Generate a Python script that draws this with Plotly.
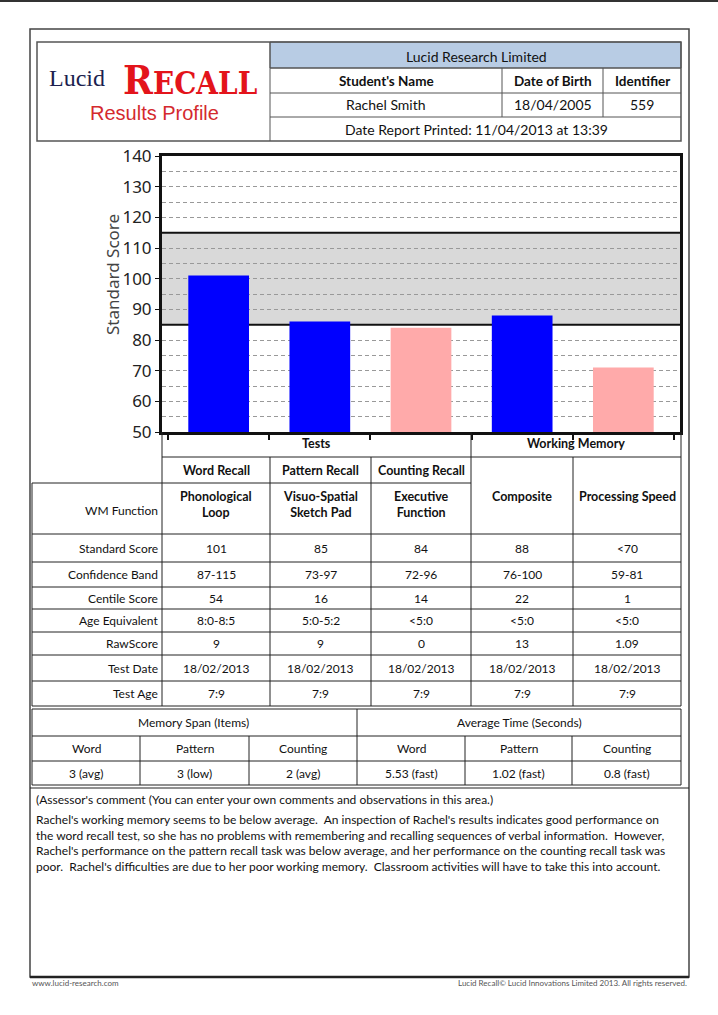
import plotly.graph_objects as go

# ---------------- data ----------------
company = "Lucid Research Limited"
student_headers = ["Student's Name", "Date of Birth", "Identifier"]
student_values = ["Rachel Smith", "18/04/2005", "559"]
printed_text = "Date Report Printed: 11/04/2013 at 13:39"

groups = ["Tests", "Working Memory"]
tests = ["Word Recall", "Pattern Recall", "Counting Recall", "Composite", "Processing Speed"]
wm_functions = ["Phonological<br>Loop", "Visuo-Spatial<br>Sketch Pad", "Executive<br>Function"]
bar_scores = [101, 86, 84, 88, 71]
average_band = [85, 115]
y_range = [50, 140]

row_labels = ["Standard Score", "Confidence Band", "Centile Score", "Age Equivalent",
              "RawScore", "Test Date", "Test Age"]
standard_score = ["101", "85", "84", "88", "<70"]
confidence_band = ["87-115", "73-97", "72-96", "76-100", "59-81"]
centile_score = ["54", "16", "14", "22", "1"]
age_equivalent = ["8:0-8:5", "5:0-5:2", "<5:0", "<5:0", "<5:0"]
raw_score = ["9", "9", "0", "13", "1.09"]
test_date = ["18/02/2013"] * 5
test_age = ["7:9", "7:9", "7:9", "7:9", "7:9"]
table_rows = [standard_score, confidence_band, centile_score, age_equivalent,
              raw_score, test_date, test_age]

span_groups = ["Memory Span (Items)", "Average Time (Seconds)"]
span_cats = ["Word", "Pattern", "Counting", "Word", "Pattern", "Counting"]
span_values = ["3 (avg)", "3 (low)", "2 (avg)", "5.53 (fast)", "1.02 (fast)", "0.8 (fast)"]

comment_title = "(Assessor's comment (You can enter your own comments and observations in this area.)"
comment_lines = [
    "Rachel's working memory seems to be below average.&nbsp; An inspection of Rachel's results indicates good performance on",
    "the word recall test, so she has no problems with remembering and recalling sequences of verbal information.&nbsp; However,",
    "Rachel's performance on the pattern recall task was below average, and her performance on the counting recall task was",
    "poor.&nbsp; Rachel's difficulties are due to her poor working memory.&nbsp; Classroom activities will have to take this into account.",
]
footer_left = "www.lucid-research.com"
footer_right = "Lucid Recall\u00a9 Lucid Innovations Limited 2013. All rights reserved."

# ---------------- helpers ----------------
W, H = 718, 1015
FONT = "Lato"
shapes, annots = [], []


def X(p):
    return p / W


def Y(p):
    return 1 - p / H


def hline(y, x0, x1, w=1, c="#222"):
    shapes.append(dict(type="line", xref="paper", yref="paper", x0=X(x0), x1=X(x1),
                       y0=Y(y), y1=Y(y), line=dict(color=c, width=w)))


def vline(x, y0, y1, w=1, c="#222"):
    shapes.append(dict(type="line", xref="paper", yref="paper", x0=X(x), x1=X(x),
                       y0=Y(y0), y1=Y(y1), line=dict(color=c, width=w)))


def rect(x0, y0, x1, y1, w=1, c="#222", fill=None):
    d = dict(type="rect", xref="paper", yref="paper", x0=X(x0), x1=X(x1),
             y0=Y(y1), y1=Y(y0), line=dict(color=c, width=w))
    if fill:
        d["fillcolor"] = fill
        d["layer"] = "below"
    shapes.append(d)


def text(x, y, s, size=12, bold=False, anchor="center", color="#111", family=FONT, align=None):
    if bold:
        s = "<b>" + s + "</b>"
    annots.append(dict(xref="paper", yref="paper", x=X(x), y=Y(y), text=s, showarrow=False,
                       xanchor=anchor, yanchor="middle", align=align or anchor,
                       font=dict(size=size, color=color, family=family)))


# ---------------- page frame ----------------
hline(1, 0, 718, w=2, c="#333")
rect(30, 29, 689, 977, w=1.5, c="#444")
hline(977, 30, 689, w=2.5, c="#222")

# ---------------- header ----------------
rect(37, 42, 681, 141, w=1.5, c="#555")
rect(270, 42, 681, 68, w=1, c="#555", fill="#b8cce4")
vline(270, 42, 141, c="#555")
hline(68, 270, 681, c="#555")
hline(93, 270, 681, c="#555")
hline(117, 270, 681, c="#555")
vline(502, 68, 117, c="#555")
vline(603, 68, 117, c="#555")
text(476, 56, company, size=14)
col_cx = [386, 553, 642]
for cx, h, v in zip(col_cx, student_headers, student_values):
    text(cx, 81, h, size=13.5, bold=True)
    text(cx, 105, v, size=14)
text(476, 129, printed_text, size=14)

# logo
text(77, 78, "Lucid", size=24, color="#1c1f50", family="Liberation Serif")
text(190, 79, "<b>R<span style='font-size:31px'>ECALL</span></b>", size=40, color="#e3141b",
     family="DejaVu Serif Condensed")
text(154, 113, "Results Profile", size=20, color="#d42a2e", family="Liberation Sans")

# ---------------- chart ----------------
band_low, band_high = average_band
colors = ["#ffaaaa" if s < band_low else "#0000ff" for s in bar_scores]
xs = list(range(len(tests)))
fig = go.Figure(go.Bar(x=xs, y=bar_scores, width=0.6, marker=dict(color=colors, line=dict(width=0)),
                       hovertext=tests, showlegend=False))

shapes.append(dict(type="rect", xref="x domain", yref="y", x0=0, x1=1, y0=band_low, y1=band_high,
                   fillcolor="#d9d9d9", line=dict(width=0), layer="below"))
for b in average_band:
    shapes.append(dict(type="line", xref="x domain", yref="y", x0=0, x1=1, y0=b, y1=b,
                       line=dict(color="#111", width=2), layer="below"))

text(112, 275, "Standard Score", size=17, color="#444", family="Noto Sans")
annots[-1]["textangle"] = -90

# minor gridlines every 5, except on the band edges (drawn solid)
minor_vals = [v for v in range(y_range[0] + 5, y_range[1], 10) if v not in average_band]

# ---------------- main table ----------------
cols = [162, 270, 371, 471, 573, 681]
hline(457, 162, 681)
hline(483, 32, 471)
hline(534, 32, 681)
row_lines = [534, 562, 587, 609, 632, 655, 681, 706]
for yl in row_lines[1:]:
    hline(yl, 32, 681)
vline(32, 483, 706)
vline(162, 432, 706)
vline(471, 432, 706)
vline(681, 432, 706)
for cx in (270, 371):
    vline(cx, 457, 706)
vline(573, 457, 706)

text(316, 444, groups[0], size=12.5, bold=True)
text(576, 444, groups[1], size=12.5, bold=True)
for i in range(3):
    cx = (cols[i] + cols[i + 1]) / 2
    text(cx, 470, tests[i], size=12.5, bold=True)
    text(cx, 505, wm_functions[i], size=12.5, bold=True)
for i in range(3, 5):
    cx = (cols[i] + cols[i + 1]) / 2
    text(cx, 496, tests[i], size=12.5, bold=True)
text(160, 510, "WM Function", size=12, anchor="right")

for r, (lab, vals) in enumerate(zip(row_labels, table_rows)):
    cy = (row_lines[r] + row_lines[r + 1]) / 2
    text(160, cy, lab, size=12, anchor="right")
    for i, v in enumerate(vals):
        text((cols[i] + cols[i + 1]) / 2, cy, v, size=12)

# ---------------- memory span table ----------------
rect(32, 709, 681, 785)
hline(736, 32, 681)
hline(761, 32, 681)
vline(357, 709, 785)
scols = [32, 140, 249, 357, 465, 572, 681]
for cx in scols[1:-1]:
    if cx != 357:
        vline(cx, 736, 785)
text(194, 722, span_groups[0], size=12)
text(519, 722, span_groups[1], size=12)
for i, (c, v) in enumerate(zip(span_cats, span_values)):
    cx = (scols[i] + scols[i + 1]) / 2
    text(cx, 748, c, size=12)
    text(cx, 773, v, size=12)

# ---------------- comment ----------------
hline(788, 30, 689)
text(34, 799, comment_title, size=12, anchor="left")
text(34, 843, "<br>".join(comment_lines), size=12, anchor="left")

# ---------------- footer ----------------
text(30, 983, footer_left, size=8, anchor="left", color="#555")
text(689, 983, footer_right, size=8, anchor="right", color="#555")

fig.update_layout(
    width=W, height=H, margin=dict(l=0, r=0, t=0, b=0, pad=0, autoexpand=False),
    paper_bgcolor="white", plot_bgcolor="white",
    shapes=shapes, annotations=annots, bargap=0.4,
    xaxis=dict(domain=[X(162), X(680)], range=[-0.56, len(tests) - 0.44], automargin=False,
               tickvals=[i - 0.5 for i in range(len(tests) + 1)], ticktext=[""] * (len(tests) + 1),
               ticks="outside", ticklen=5, tickwidth=2, tickcolor="#111",
               showgrid=False, zeroline=False, showline=True, linewidth=3, linecolor="#111",
               mirror=True, fixedrange=True),
    yaxis=dict(domain=[Y(432), Y(156)], range=y_range, dtick=10, tick0=50, automargin=False,
               ticks="outside", ticklen=4, tickcolor="#111",
               tickfont=dict(size=17, color="#222", family="Noto Sans"),
               showgrid=True, gridcolor="#999999", griddash="4px,3px", gridwidth=1,
               minor=dict(tickmode="array", tickvals=minor_vals, showgrid=True,
                          gridcolor="#999999", griddash="4px,3px", ticks=""),
               zeroline=False, showline=True, linewidth=3, linecolor="#111", mirror=True,
               fixedrange=True),
)

fig.write_html("out.html", config={"displayModeBar": False},
               post_script="document.body.style.margin='0px';")
